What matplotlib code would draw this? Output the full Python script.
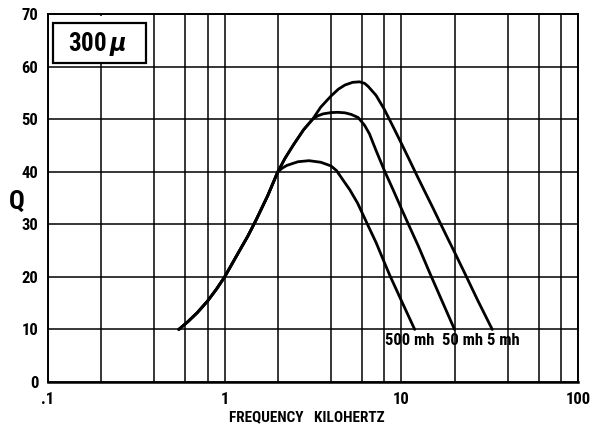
import numpy as np
import matplotlib.pyplot as plt
from matplotlib.patches import Rectangle
from matplotlib.ticker import FixedLocator, NullFormatter

plt.rcParams['font.family'] = ['Liberation Sans Narrow', 'Roboto Condensed', 'DejaVu Sans']
plt.rcParams['font.weight'] = 'bold'
plt.rcParams['font.stretch'] = 'condensed'
plt.rcParams['axes.labelweight'] = 'bold'

# shared rising part (all three inductances)
shared_x = [0.55, 0.62, 0.7, 0.8, 0.9, 1.0, 1.2, 1.35, 1.5, 1.75, 2.0]
shared_q = [10, 11.5, 13.2, 15.4, 17.7, 20, 24.7, 27.7, 30.7, 35.4, 40]

# 500 mh branches off at 2 kHz
mh500_x = [2.12, 2.25, 2.6, 3.0, 3.5, 4.0, 4.3, 4.57, 5.1, 5.66, 6.43, 7.2, 8.0, 8.6,
           10, 11.9]
mh500_q = [40.7, 41.2, 41.9, 42.1, 41.8, 41.1, 40.2, 38.9, 36.6, 34, 30, 26.5, 22.8,
           20.3, 15.5, 10]

# 50 mh and 5 mh share the climb to ~3 kHz
up_x = [2.2, 2.46, 2.8, 3.15]
up_q = [42.6, 45.2, 48, 50]

mh50_x = [3.35, 3.6, 4.0, 4.37, 4.8, 5.2, 5.7, 6.2, 6.6, 7.2, 8.0, 9.0, 10, 11, 12.5,
          14.5, 17, 20]
mh50_q = [50.6, 51.0, 51.25, 51.3, 51.2, 50.9, 50.3, 48.8, 47.2, 44.0, 40.3, 36.5,
          33.0, 29.9, 25.8, 20.7, 15.4, 10]

mh5_x = [3.5, 4.0, 4.4, 4.8, 5.3, 5.8, 6.2, 6.5, 7.2, 8.0, 9.0, 10, 11.2, 12.2, 13.5,
         15, 16.9, 18.5, 20, 23, 27, 32.7]
mh5_q = [52.3, 54.4, 55.7, 56.5, 57.0, 57.1, 56.8, 56.2, 54.5, 51.9, 48.5, 45.4, 42,
         39.4, 36.4, 33.3, 29.7, 27, 24.7, 20.5, 15.6, 10]

curve_labels = ["500 mh", "50 mh", "5 mh"]
label_x = [8.1, 16.9, 30.4]

xticks = [0.1, 1, 10, 100]
xticklabels = [".1", "1", "10", "100"]
xgrid = [0.2, 0.4, 0.6, 0.8, 1, 2, 4, 6, 8, 10, 20, 40, 60, 80]
yticks = [0, 10, 20, 30, 40, 50, 60, 70]

fig = plt.figure(figsize=(5.97, 4.32), dpi=100)
ax = fig.add_axes([0.0804, 0.1157, 0.8878, 0.8519])
ax.set_xscale('log')
ax.set_xlim(0.1, 100)
ax.set_ylim(0, 70)

ax.xaxis.set_major_locator(FixedLocator(xticks))
ax.set_xticklabels(xticklabels)
ax.xaxis.set_minor_locator(FixedLocator(xgrid))
ax.xaxis.set_minor_formatter(NullFormatter())
ax.set_yticks(yticks)
ax.tick_params(which='both', length=0, labelsize=12, pad=7)

ax.set_axisbelow(True)
ax.grid(True, which='both', color='black', lw=1.1)
for s in ax.spines.values():
    s.set_linewidth(1.4)
ax.spines['bottom'].set_linewidth(1.8)

def full(bx, bq, mid_x=(), mid_q=()):
    return (np.array(shared_x + list(mid_x) + bx),
            np.array(shared_q + list(mid_q) + bq))

for xs, qs in [full(mh500_x, mh500_q), full(mh50_x, mh50_q, up_x, up_q),
               full(mh5_x, mh5_q, up_x, up_q)]:
    ax.plot(xs, qs, color='black', lw=2.0, zorder=3,
            solid_capstyle='round', solid_joinstyle='round')

for lab, lx in zip(curve_labels, label_x):
    ax.text(lx, 7.9, lab, fontsize=12, va='center', ha='left', zorder=4)

# white patch + framed "300 mu" label in the corner
ax.add_patch(Rectangle((0.106, 60.4), 0.284, 9.3, facecolor='white',
                       edgecolor='none', zorder=2))
ax.add_patch(Rectangle((0.010, 0.866), 0.175, 0.110, transform=ax.transAxes,
                       facecolor='white', edgecolor='black', lw=1.6, zorder=4))
ax.text(0.094, 0.919, "300$\\,\\mu$", transform=ax.transAxes, fontsize=18,
        ha='center', va='center', zorder=5)

ax.set_ylabel("Q", rotation=0, fontsize=19, va='center', ha='center')
ax.yaxis.set_label_coords(-0.058, 0.49)
ax.set_xlabel("FREQUENCY   KILOHERTZ", fontsize=11)
ax.xaxis.set_label_coords(0.489, -0.076)

fig.savefig("out.png", dpi=100)
